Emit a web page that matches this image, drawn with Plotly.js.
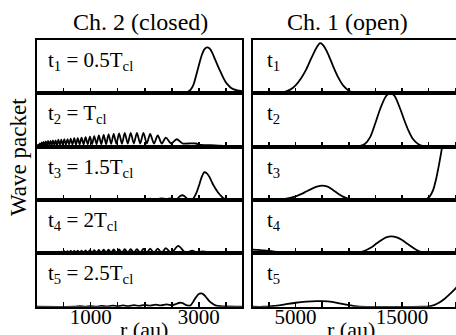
<!DOCTYPE html>
<html><head><meta charset="utf-8">
<script src="https://cdn.plot.ly/plotly-3.0.1.min.js"></script>
<style>html,body{margin:0;padding:0;overflow:hidden;background:#fff;} #chart{width:467px;height:335px;}</style>
</head><body><div id="chart"></div>
<script>
// ---- Data: Ch. 2 (closed), r in au, packet amplitude (panel-relative) ----
const closedR1 = [0,1900,2000,2100,2200,2300,2400,2500,2600,2700,2750,2800,2850,2900,2950,3000,3050,3100,3150,3200,3250,3300,3350,3400,3450,3500,3550,3600,3650,3700,3750,3800];
const closedW1 = [0,0,0.01,0,0.015,0,0.01,0.005,0.01,0.01,0.012,0.03,0.07,0.16,0.33,0.52,0.70,0.82,0.86,0.84,0.76,0.64,0.52,0.41,0.30,0.21,0.15,0.10,0.075,0.06,0.05,0.04];

const closedR2 = [0,15,30,45,60,78,95,112,130,150,170,190,210,232,255,278,300,325,350,375,400,428,455,482,510,540,570,600,630,662,695,728,760,795,830,868,905,945,985,1025,1065,1108,1150,1195,1240,1285,1330,1378,1425,1475,1525,1578,1630,1685,1740,1798,1855,1915,1975,2038,2100,2170,2240,2315,2390,2490,2590,2700,2800,2950,3000,3100,3300,3500,3600,3700,3800];
const closedW2 = [0,0.02,0.04,0.015,0.06,0.02,0.08,0.02,0.09,0.025,0.10,0.025,0.11,0.03,0.11,0.03,0.12,0.03,0.12,0.03,0.13,0.035,0.13,0.035,0.14,0.035,0.14,0.04,0.15,0.04,0.16,0.04,0.16,0.045,0.17,0.045,0.18,0.045,0.19,0.05,0.20,0.05,0.21,0.05,0.22,0.05,0.23,0.055,0.24,0.055,0.25,0.055,0.26,0.06,0.26,0.06,0.26,0.06,0.26,0.06,0.24,0.06,0.21,0.06,0.17,0.06,0.14,0.06,0.06,0.06,0.04,0.03,0.025,0.015,0.005,0,0];

const closedR3 = [0,800,900,1000,1100,1200,1300,1400,1500,1600,1700,1800,1900,2000,2100,2200,2300,2400,2500,2550,2600,2650,2700,2750,2800,2850,2900,2950,3000,3050,3100,3150,3200,3250,3300,3350,3400,3450,3500,3550,3800];
const closedW3 = [0,0,0.01,0,0.015,0,0.01,0.005,0.015,0.005,0.02,0.01,0.02,0.01,0.025,0.01,0.03,0.02,0.03,0.01,0.02,0.07,0.09,0.06,0.01,0.005,0.03,0.12,0.26,0.42,0.52,0.50,0.43,0.32,0.23,0.15,0.09,0.04,0.015,0,0];

const closedR4 = [0,30,45,60,78,95,112,130,150,170,190,210,232,255,278,300,325,350,375,400,428,455,482,510,540,570,600,630,662,695,728,760,795,830,868,905,945,985,1025,1065,1108,1150,1195,1240,1285,1330,1378,1425,1475,1525,1578,1630,1685,1740,1798,1855,1915,1975,2038,2100,2170,2240,2315,2390,2490,2620,2750,2880,2960,3050,3150,3300,3450,3550,3650,3800];
const closedW4 = [0,0.01,0.003,0.015,0.003,0.02,0.004,0.02,0.004,0.025,0.005,0.025,0.005,0.03,0.005,0.03,0.005,0.03,0.006,0.035,0.006,0.035,0.006,0.04,0.006,0.04,0.007,0.045,0.007,0.045,0.008,0.05,0.008,0.05,0.008,0.055,0.009,0.06,0.009,0.06,0.01,0.065,0.01,0.07,0.01,0.07,0.01,0.075,0.01,0.075,0.01,0.08,0.01,0.08,0.01,0.08,0.01,0.085,0.01,0.09,0.01,0.09,0.01,0.10,0.01,0.14,0.02,0.05,0.02,0.035,0.03,0.03,0.02,0.01,0,0];

const closedR5 = [0,700,800,900,1000,1100,1200,1300,1400,1500,1600,1700,1800,1900,2000,2100,2200,2300,2400,2500,2550,2600,2650,2700,2750,2800,2850,2900,2950,3000,3050,3100,3150,3200,3250,3300,3350,3400,3500,3800];
const closedW5 = [0,0,0.01,0,0.01,0,0.015,0.005,0.02,0.01,0.025,0.01,0.03,0.015,0.035,0.02,0.04,0.025,0.045,0.03,0.04,0.06,0.075,0.07,0.04,0.02,0.03,0.10,0.18,0.24,0.25,0.22,0.16,0.10,0.06,0.03,0.015,0.01,0.005,0];

// ---- Data: Ch. 1 (open) ----
const openR1 = [1000,3000,3500,4000,4500,5000,5500,6000,6500,7000,7300,7600,8000,8500,9000,9500,10000,10500,11000,12000,21000];
const openW1 = [0,0,0.01,0.03,0.07,0.15,0.28,0.45,0.67,0.87,0.94,0.90,0.76,0.52,0.30,0.14,0.05,0.015,0.003,0,0];

const openR2 = [1000,2000,3000,10500,11000,11500,12000,12500,13000,13500,13900,14300,14800,15200,15600,16000,16500,17000,17500,21000];
const openW2 = [0.015,0.005,0,0,0.01,0.05,0.18,0.45,0.74,0.95,1.01,0.95,0.72,0.5,0.3,0.15,0.05,0.01,0,0];

const openR3 = [1000,2500,3000,3500,4000,4500,5000,5500,6000,6500,7000,7500,8000,8500,9000,9500,10000,10500,11000,17000,17300,17600,17900,18200,18500,18800,19100,19500,21000];
const openW3 = [0,0,0.005,0.01,0.02,0.04,0.07,0.11,0.16,0.21,0.25,0.27,0.25,0.19,0.12,0.06,0.02,0.005,0,0,0.02,0.07,0.18,0.40,0.70,1.05,1.5,2.2,5];

const openR4 = [1000,1500,2000,2500,3000,3500,4000,4500,5000,5500,6000,10000,10500,11000,11500,12000,12500,13000,13500,14000,14500,15000,15500,16000,16500,17000,17500,21000];
const openW4 = [0.07,0.065,0.055,0.045,0.035,0.025,0.015,0.01,0.005,0.002,0,0,0.005,0.02,0.05,0.1,0.17,0.24,0.3,0.32,0.3,0.25,0.18,0.11,0.05,0.015,0,0];

const openR5 = [1000,2000,2500,3000,4000,5000,6000,7000,7500,8000,9000,10000,10500,11000,17000,17500,18000,18500,19000,19500,20000,20500,21000];
const openW5 = [0,0,0.005,0.015,0.045,0.075,0.095,0.105,0.105,0.1,0.07,0.03,0.012,0,0,0.005,0.03,0.08,0.15,0.24,0.34,0.45,0.57];

// ---- Labels / ticks ----
const columnTitles = ["Ch. 2 (closed)", "Ch. 1 (open)"];
const closedLabels = ["t<sub>1</sub> = 0.5T<sub>cl</sub>", "t<sub>2</sub> = T<sub>cl</sub>", "t<sub>3</sub> = 1.5T<sub>cl</sub>", "t<sub>4</sub> = 2T<sub>cl</sub>", "t<sub>5</sub> = 2.5T<sub>cl</sub>"];
const openLabels = ["t<sub>1</sub>", "t<sub>2</sub>", "t<sub>3</sub>", "t<sub>4</sub>", "t<sub>5</sub>"];
const closedTickVals = [500,1000,1500,2000,2500,3000,3500];
const closedTickText = ["","1000","","","","3000",""];
const openTickVals = [2500,5000,7500,10000,12500,15000,17500,20000];
const openTickText = ["","5000","","","","15000","",""];
const yTitle = "Wave packet";
const xTitle = "r (au)";

const closedR = [closedR1, closedR2, closedR3, closedR4, closedR5];
const closedW = [closedW1, closedW2, closedW3, closedW4, closedW5];
const openR = [openR1, openR2, openR3, openR4, openR5];
const openW = [openW1, openW2, openW3, openW4, openW5];

// ---- Geometry (pixels) ----
const W = 467, H = 335;
const colX = [[36.7, 242], [253, 466]];
const rowTop = 40, rowH = 53.35;
const FONT = "Liberation Serif";
const px = v => v / W;
const py = v => 1 - v / H;

const traces = [];
const layout = {
  width: W, height: H,
  margin: {l: 0, r: 0, t: 0, b: 0},
  paper_bgcolor: "#fff", plot_bgcolor: "#fff",
  showlegend: false,
  font: {family: FONT, color: "#000", size: 21},
  annotations: []
};

for (let c = 0; c < 2; c++) {
  for (let r = 0; r < 5; r++) {
    const k = c * 5 + r + 1;
    const xa = k === 1 ? "xaxis" : "xaxis" + k;
    const ya = k === 1 ? "yaxis" : "yaxis" + k;
    const top = rowTop + r * rowH, bot = top + rowH;
    traces.push({
      type: "scatter", mode: "lines",
      x: c === 0 ? closedR[r] : openR[r],
      y: c === 0 ? closedW[r] : openW[r],
      xaxis: "x" + (k === 1 ? "" : k), yaxis: "y" + (k === 1 ? "" : k),
      line: {color: "#000", width: 1.8, shape: "spline", smoothing: 0.8},
      hoverinfo: "skip"
    });
    layout[xa] = {
      domain: [px(colX[c][0]), px(colX[c][1])],
      range: c === 0 ? [0, 3800] : [1000, 21000],
      anchor: "y" + (k === 1 ? "" : k),
      showline: true, linecolor: "#000", linewidth: 2, mirror: true,
      ticks: "inside", ticklen: 5, tickwidth: 1.5, tickcolor: "#000",
      tickmode: "array",
      tickvals: c === 0 ? closedTickVals : openTickVals,
      ticktext: c === 0 ? closedTickText : openTickText,
      showticklabels: r === 4,
      ticklabelstandoff: -10,
      tickfont: {family: FONT, size: 21, color: "#000"},
      showgrid: false, zeroline: false, fixedrange: true
    };
    layout[ya] = {
      domain: [py(bot), py(top)],
      range: [0, 1],
      anchor: "x" + (k === 1 ? "" : k),
      showline: true, linecolor: "#000", linewidth: 2, mirror: true,
      ticks: "", showticklabels: false,
      showgrid: false, zeroline: false, fixedrange: true
    };
    layout.annotations.push({
      text: c === 0 ? closedLabels[r] : openLabels[r],
      xref: "paper", yref: "paper",
      x: px(c === 0 ? 46 : 265), y: py(top + 21),
      xanchor: "left", yanchor: "middle", showarrow: false,
      font: {family: FONT, size: 21, color: "#000"}
    });
  }
}

layout.annotations.push(
  {text: columnTitles[0], xref: "paper", yref: "paper", x: px(140), y: py(22), xanchor: "center", yanchor: "middle", showarrow: false, font: {family: FONT, size: 24, color: "#000"}},
  {text: columnTitles[1], xref: "paper", yref: "paper", x: px(347), y: py(22), xanchor: "center", yanchor: "middle", showarrow: false, font: {family: FONT, size: 24, color: "#000"}},
  {text: yTitle, xref: "paper", yref: "paper", x: px(18), y: py(157), xanchor: "center", yanchor: "middle", textangle: -90, showarrow: false, font: {family: FONT, size: 23, color: "#000"}},
  {text: xTitle, xref: "paper", yref: "paper", x: px(144), y: py(329), xanchor: "center", yanchor: "middle", showarrow: false, font: {family: FONT, size: 22, color: "#000"}},
  {text: xTitle, xref: "paper", yref: "paper", x: px(351), y: py(329), xanchor: "center", yanchor: "middle", showarrow: false, font: {family: FONT, size: 22, color: "#000"}}
);

Plotly.newPlot("chart", traces, layout, {staticPlot: true, displayModeBar: false});
</script>
</body></html>
